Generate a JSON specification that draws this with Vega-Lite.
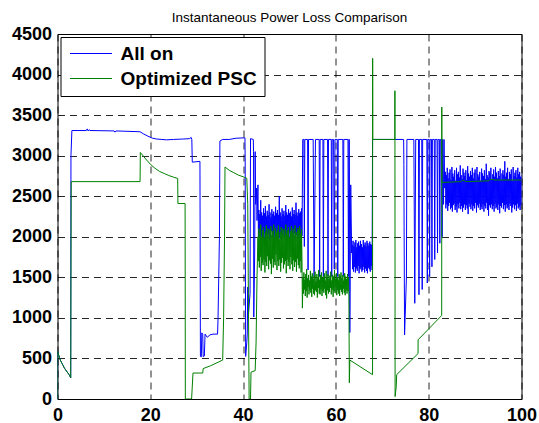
{
"$schema":"https://vega.github.io/schema/vega-lite/v6.json",
"width":464,"height":365,
"autosize":{"type":"none"},
"padding":{"left":57.5,"top":34,"right":17.5,"bottom":24},
"title":{"text":"Instantaneous Power Loss Comparison","fontSize":13.5,"fontWeight":"normal","font":"Liberation Sans","color":"black","anchor":"middle","frame":"group","baseline":"alphabetic","offset":6,"dy":16},
"config":{
"font":"Liberation Sans",
"view":{"stroke":"black","strokeWidth":1},
"axis":{"labelFont":"Liberation Sans","labelFontSize":18,"labelFontWeight":"bold","labelColor":"black","domain":false,"ticks":false,"grid":true,"gridColor":"#000000","gridDash":[7,5],"gridWidth":1,"gridOpacity":0.85,"labelOverlap":false,"labelBound":false,"labelFlush":false,"title":null},
"axisX":{"labelPadding":7},
"axisY":{"labelPadding":6},
"legend":{"orient":"top-left","offset":3,"padding":7,"fillColor":"white","strokeColor":"black","strokeWidth":1,"symbolType":"M-1,0L5,0","symbolSize":196,"symbolStrokeWidth":1,"labelFont":"Liberation Sans","labelFontSize":19,"labelFontWeight":"bold","labelColor":"black","labelOffset":34,"rowPadding":5,"title":null}
},
"datasets":{
"blue":[
{"x":0,"y":0},{"x":0.02,"y":585},{"x":0.6,"y":480},{"x":1.5,"y":380},{"x":2.5,"y":300},{"x":2.85,"y":262},{"x":2.9,"y":3000},{"x":3.1,"y":3310},{"x":6.2,"y":3310},{"x":6.4,"y":3330},{"x":6.6,"y":3305},{"x":6.8,"y":3320},{"x":7.0,"y":3310},{"x":12.2,"y":3305},{"x":12.4,"y":3290},{"x":12.6,"y":3305},{"x":17.8,"y":3295},{"x":18.5,"y":3270},{"x":19.5,"y":3240},{"x":20.5,"y":3215},{"x":21.4,"y":3205},{"x":22.5,"y":3200},{"x":23.5,"y":3195},{"x":25,"y":3200},{"x":27,"y":3205},{"x":28.5,"y":3210},{"x":28.8,"y":3225},{"x":28.95,"y":3200},{"x":29.05,"y":2920},{"x":30.7,"y":2930},{"x":30.8,"y":525},{"x":31.0,"y":520},{"x":31.1,"y":816},{"x":31.3,"y":800},{"x":31.4,"y":520},{"x":31.65,"y":530},{"x":31.8,"y":800},{"x":32.3,"y":760},{"x":32.8,"y":790},{"x":33.5,"y":800},{"x":34.5,"y":800},{"x":34.6,"y":1000},{"x":34.9,"y":2000},{"x":35.0,"y":3180},{"x":35.6,"y":3200},{"x":37,"y":3200},{"x":38.5,"y":3215},{"x":40.4,"y":3220},{"x":40.45,"y":2910},{"x":40.55,"y":525},{"x":40.8,"y":700},{"x":40.9,"y":800},{"x":41.0,"y":1380},{"x":41.1,"y":1000},{"x":41.5,"y":1300},{"x":41.6,"y":3210},{"x":42.2,"y":3200},{"x":42.25,"y":3050},{"x":42.3,"y":1010},{"x":42.5,"y":1800},{"x":42.6,"y":3050},{"x":42.7,"y":2400},{"x":42.9,"y":2600},{"x":43.0,"y":2200},{"x":43.2,"y":2640},
{"x":43.3,"y":2000},{"x":43.4,"y":2330},{"x":43.5,"y":1980},{"x":43.6,"y":2280},{"x":43.7,"y":2050},{"x":43.8,"y":2450},{"x":43.9,"y":1960},{"x":44.0,"y":2300},{"x":44.1,"y":2020},{"x":44.2,"y":2260},{"x":44.3,"y":1990},{"x":44.4,"y":2350},{"x":44.5,"y":2040},{"x":44.6,"y":2290},{"x":44.7,"y":1970},{"x":44.8,"y":2380},{"x":44.9,"y":2010},{"x":45.0,"y":2250},{"x":45.1,"y":2060},{"x":45.2,"y":2320},
{"x":45.3,"y":1980},{"x":45.4,"y":2270},{"x":45.5,"y":2030},{"x":45.6,"y":2400},{"x":45.7,"y":1950},{"x":45.8,"y":2300},{"x":45.9,"y":2000},{"x":46.0,"y":2240},{"x":46.1,"y":2070},{"x":46.2,"y":2340},{"x":46.3,"y":1990},{"x":46.4,"y":2280},{"x":46.5,"y":2020},{"x":46.6,"y":2310},{"x":46.7,"y":1960},{"x":46.8,"y":2260},{"x":46.9,"y":2040},{"x":47.0,"y":2370},{"x":47.1,"y":2010},{"x":47.2,"y":2290},
{"x":47.3,"y":1970},{"x":47.4,"y":2330},{"x":47.5,"y":2050},{"x":47.6,"y":2270},{"x":47.7,"y":2000},{"x":47.8,"y":2500},{"x":47.9,"y":1980},{"x":48.0,"y":2300},{"x":48.1,"y":2030},{"x":48.2,"y":2250},{"x":48.3,"y":1960},{"x":48.4,"y":2350},{"x":48.5,"y":2010},{"x":48.6,"y":2280},{"x":48.7,"y":2060},{"x":48.8,"y":2320},{"x":48.9,"y":1990},{"x":49.0,"y":2260},{"x":49.1,"y":2020},{"x":49.2,"y":2390},
{"x":49.3,"y":1950},{"x":49.4,"y":2300},{"x":49.5,"y":2040},{"x":49.6,"y":2270},{"x":49.7,"y":2000},{"x":49.8,"y":2340},{"x":49.9,"y":1980},{"x":50.0,"y":2290},{"x":50.1,"y":2050},{"x":50.2,"y":2310},{"x":50.3,"y":1970},{"x":50.4,"y":2250},{"x":50.5,"y":2030},{"x":50.6,"y":2360},{"x":50.7,"y":2010},{"x":50.8,"y":2280},{"x":50.9,"y":1960},{"x":51.0,"y":2330},{"x":51.1,"y":2040},{"x":51.2,"y":2270},
{"x":51.3,"y":1990},{"x":51.4,"y":2420},{"x":51.5,"y":2020},{"x":51.6,"y":2300},{"x":51.7,"y":1980},{"x":51.8,"y":2260},{"x":51.9,"y":2060},{"x":52.0,"y":2340},{"x":52.1,"y":2000},{"x":52.2,"y":2290},{"x":52.3,"y":1970},{"x":52.4,"y":2310},{"x":52.5,"y":2030},{"x":52.6,"y":2350},{"x":52.7,"y":2010},
{"x":52.85,"y":3200},{"x":53.1,"y":3200},{"x":53.2,"y":1880},{"x":53.3,"y":3200},{"x":53.9,"y":3200},{"x":54.0,"y":1590},{"x":54.1,"y":3200},{"x":55.1,"y":3200},{"x":55.3,"y":1510},{"x":55.6,"y":3200},{"x":56.4,"y":3200},{"x":56.5,"y":1510},{"x":56.6,"y":3200},{"x":57.2,"y":3200},{"x":57.3,"y":1510},{"x":57.4,"y":3200},{"x":58.2,"y":3200},{"x":58.3,"y":1510},{"x":58.4,"y":3200},{"x":59.0,"y":3200},{"x":59.1,"y":1510},{"x":59.2,"y":3200},{"x":59.5,"y":3200},{"x":59.65,"y":1600},{"x":59.8,"y":3200},{"x":60.3,"y":3200},{"x":60.4,"y":1510},{"x":60.5,"y":3200},{"x":61.5,"y":3200},{"x":61.6,"y":1510},{"x":61.7,"y":3200},{"x":62.6,"y":3200},{"x":62.7,"y":1510},{"x":62.8,"y":3200},{"x":62.9,"y":3200},{"x":63.0,"y":820},{"x":63.2,"y":2640},{"x":63.4,"y":1800},
{"x":63.5,"y":1900},{"x":63.6,"y":1600},{"x":63.7,"y":1950},{"x":63.8,"y":1570},{"x":63.9,"y":1880},{"x":64.0,"y":1630},{"x":64.1,"y":1930},{"x":64.2,"y":1560},{"x":64.3,"y":1960},{"x":64.4,"y":1610},{"x":64.5,"y":1870},{"x":64.6,"y":1580},{"x":64.7,"y":1920},{"x":64.8,"y":1640},{"x":64.9,"y":1940},{"x":65.0,"y":1550},{"x":65.1,"y":1890},{"x":65.2,"y":1600},{"x":65.3,"y":1950},{"x":65.4,"y":1620},{"x":65.5,"y":1910},{"x":65.6,"y":1570},
{"x":65.7,"y":1870},{"x":65.8,"y":1590},{"x":65.9,"y":1960},{"x":66.0,"y":1630},{"x":66.1,"y":1900},{"x":66.2,"y":1560},{"x":66.3,"y":1930},{"x":66.4,"y":1610},{"x":66.5,"y":1880},{"x":66.6,"y":1580},{"x":66.7,"y":1950},{"x":66.8,"y":1550},{"x":66.9,"y":1920},{"x":67.0,"y":1620},{"x":67.1,"y":1890},{"x":67.2,"y":1600},{"x":67.3,"y":1940},{"x":67.4,"y":1570},{"x":67.5,"y":1910},{"x":67.6,"y":1640},{"x":67.7,"y":1900},{"x":67.8,"y":1590},
{"x":67.9,"y":3200},{"x":70,"y":3200},{"x":72.7,"y":3200},{"x":74.6,"y":3200},{"x":74.65,"y":2890},{"x":74.7,"y":2130},{"x":74.8,"y":790},{"x":75.2,"y":1500},{"x":75.3,"y":3200},{"x":76.8,"y":3200},{"x":77.0,"y":1180},{"x":77.2,"y":3200},{"x":77.8,"y":3200},{"x":77.9,"y":1285},{"x":78.0,"y":3200},{"x":78.5,"y":3200},{"x":78.6,"y":1350},{"x":78.7,"y":3200},{"x":79.6,"y":3200},{"x":79.7,"y":1430},{"x":79.8,"y":3200},{"x":80.1,"y":3200},{"x":80.2,"y":1510},{"x":80.3,"y":3200},{"x":80.6,"y":3200},{"x":80.7,"y":1630},{"x":80.8,"y":3200},{"x":81.2,"y":3200},{"x":81.3,"y":1720},{"x":81.4,"y":3200},{"x":81.8,"y":3200},{"x":81.9,"y":1800},{"x":82.0,"y":3200},{"x":82.3,"y":3200},{"x":82.4,"y":1920},{"x":82.5,"y":3200},{"x":82.8,"y":3200},{"x":82.9,"y":2000},{"x":83.0,"y":3200},{"x":83.2,"y":2400},{"x":83.3,"y":3200},{"x":83.45,"y":2600},
{"x":83.6,"y":2800},{"x":83.7,"y":2350},{"x":83.8,"y":2760},{"x":83.9,"y":2400},{"x":84.0,"y":2850},{"x":84.1,"y":2320},{"x":84.2,"y":2720},{"x":84.3,"y":2380},{"x":84.4,"y":2790},{"x":84.5,"y":2420},{"x":84.6,"y":2830},{"x":84.7,"y":2340},{"x":84.8,"y":2700},{"x":84.9,"y":2360},{"x":85.0,"y":2860},{"x":85.1,"y":2310},{"x":85.2,"y":2780},{"x":85.3,"y":2390},{"x":85.4,"y":2740},{"x":85.5,"y":2410},
{"x":85.6,"y":2820},{"x":85.7,"y":2330},{"x":85.8,"y":2690},{"x":85.9,"y":2370},{"x":86.0,"y":2850},{"x":86.1,"y":2300},{"x":86.2,"y":2770},{"x":86.3,"y":2400},{"x":86.4,"y":2800},{"x":86.5,"y":2350},{"x":86.6,"y":2730},{"x":86.7,"y":2420},{"x":86.8,"y":2880},{"x":86.9,"y":2340},{"x":87.0,"y":2760},{"x":87.1,"y":2380},{"x":87.2,"y":2710},{"x":87.3,"y":2310},{"x":87.4,"y":2840},{"x":87.5,"y":2360},
{"x":87.6,"y":2790},{"x":87.7,"y":2400},{"x":87.8,"y":2750},{"x":87.9,"y":2330},{"x":88.0,"y":2820},{"x":88.1,"y":2390},{"x":88.2,"y":2700},{"x":88.3,"y":2350},{"x":88.4,"y":2870},{"x":88.5,"y":2280},{"x":88.6,"y":2780},{"x":88.7,"y":2410},{"x":88.8,"y":2740},{"x":88.9,"y":2370},{"x":89.0,"y":2810},{"x":89.1,"y":2340},{"x":89.2,"y":2760},{"x":89.3,"y":2400},{"x":89.4,"y":2850},{"x":89.5,"y":2320},
{"x":89.6,"y":2720},{"x":89.7,"y":2380},{"x":89.8,"y":2790},{"x":89.9,"y":2350},{"x":90.0,"y":2830},{"x":90.1,"y":2420},{"x":90.2,"y":2700},{"x":90.3,"y":2300},{"x":90.4,"y":2860},{"x":90.5,"y":2390},{"x":90.6,"y":2770},{"x":90.7,"y":2360},{"x":90.8,"y":2740},{"x":90.9,"y":2410},{"x":91.0,"y":2800},{"x":91.1,"y":2330},{"x":91.2,"y":2690},{"x":91.3,"y":2370},{"x":91.4,"y":2840},{"x":91.5,"y":2340},
{"x":91.6,"y":2780},{"x":91.7,"y":2400},{"x":91.8,"y":2750},{"x":91.9,"y":2310},{"x":92.0,"y":2820},{"x":92.1,"y":2380},{"x":92.2,"y":2710},{"x":92.3,"y":2350},{"x":92.4,"y":2900},{"x":92.5,"y":2420},{"x":92.6,"y":2760},{"x":92.7,"y":2330},{"x":92.8,"y":2730},{"x":92.9,"y":2260},{"x":93.0,"y":2810},{"x":93.1,"y":2390},{"x":93.2,"y":2790},{"x":93.3,"y":2360},{"x":93.4,"y":2850},{"x":93.5,"y":2400},
{"x":93.6,"y":2700},{"x":93.7,"y":2340},{"x":93.8,"y":2770},{"x":93.9,"y":2380},{"x":94.0,"y":2830},{"x":94.1,"y":2310},{"x":94.2,"y":2740},{"x":94.3,"y":2410},{"x":94.4,"y":2860},{"x":94.5,"y":2350},{"x":94.6,"y":2790},{"x":94.7,"y":2370},{"x":94.8,"y":2720},{"x":94.9,"y":2330},{"x":95.0,"y":2810},{"x":95.1,"y":2400},{"x":95.2,"y":2750},{"x":95.3,"y":2290},{"x":95.4,"y":2840},{"x":95.5,"y":2380},
{"x":95.6,"y":2700},{"x":95.7,"y":2360},{"x":95.8,"y":2780},{"x":95.9,"y":2420},{"x":96.0,"y":2820},{"x":96.1,"y":2340},{"x":96.2,"y":2760},{"x":96.3,"y":2390},{"x":96.4,"y":2930},{"x":96.5,"y":2310},{"x":96.6,"y":2740},{"x":96.7,"y":2400},{"x":96.8,"y":2790},{"x":96.9,"y":2350},{"x":97.0,"y":2850},{"x":97.1,"y":2370},{"x":97.2,"y":2710},{"x":97.3,"y":2330},{"x":97.4,"y":2800},{"x":97.5,"y":2410},
{"x":97.6,"y":2770},{"x":97.7,"y":2380},{"x":97.8,"y":2830},{"x":97.9,"y":2300},{"x":98.0,"y":2690},{"x":98.1,"y":2360},{"x":98.2,"y":2860},{"x":98.3,"y":2400},{"x":98.4,"y":2750},{"x":98.5,"y":2340},{"x":98.6,"y":2790},{"x":98.7,"y":2390},{"x":98.8,"y":2820},{"x":98.9,"y":2320},{"x":99.0,"y":2730},{"x":99.1,"y":2410},{"x":99.2,"y":2850},{"x":99.3,"y":2350},{"x":99.4,"y":2770},{"x":99.5,"y":2370},
{"x":99.6,"y":2800},{"x":99.7,"y":2330},{"x":99.8,"y":2740},{"x":99.9,"y":2390},{"x":100.0,"y":2760}
],
"green":[
{"x":0,"y":0},{"x":0.02,"y":585},{"x":0.6,"y":480},{"x":1.5,"y":380},{"x":2.5,"y":300},{"x":2.85,"y":262},{"x":2.95,"y":2680},{"x":17.8,"y":2680},{"x":17.85,"y":3040},{"x":19,"y":2960},{"x":20,"y":2895},{"x":21,"y":2845},{"x":22,"y":2805},{"x":23,"y":2780},{"x":24,"y":2755},{"x":25,"y":2735},{"x":25.9,"y":2720},{"x":25.95,"y":2410},{"x":27.5,"y":2410},{"x":27.55,"y":0},{"x":28.9,"y":0},{"x":29.2,"y":320},{"x":31.3,"y":320},{"x":31.4,"y":375},{"x":33,"y":410},{"x":35.6,"y":480},{"x":35.8,"y":1000},{"x":36.0,"y":2000},{"x":36.1,"y":2860},{"x":37,"y":2820},{"x":38,"y":2790},{"x":39,"y":2760},{"x":40,"y":2740},{"x":40.8,"y":2720},{"x":41.0,"y":2400},{"x":41.3,"y":0},{"x":41.6,"y":0},{"x":41.7,"y":330},{"x":42.6,"y":350},{"x":42.8,"y":700},{"x":43.0,"y":1500},{"x":43.2,"y":2000},
{"x":43.3,"y":1700},{"x":43.4,"y":2100},{"x":43.5,"y":1620},{"x":43.6,"y":2050},{"x":43.7,"y":1750},{"x":43.8,"y":2150},{"x":43.9,"y":1580},{"x":44.0,"y":2000},{"x":44.1,"y":1680},{"x":44.2,"y":2080},{"x":44.3,"y":1650},{"x":44.4,"y":2120},{"x":44.5,"y":1720},{"x":44.6,"y":1990},{"x":44.7,"y":1560},{"x":44.8,"y":2060},{"x":44.9,"y":1690},{"x":45.0,"y":2140},{"x":45.1,"y":1640},{"x":45.2,"y":2030},
{"x":45.3,"y":1760},{"x":45.4,"y":2100},{"x":45.5,"y":1600},{"x":45.6,"y":1980},{"x":45.7,"y":1710},{"x":45.8,"y":2090},{"x":45.9,"y":1670},{"x":46.0,"y":2130},{"x":46.1,"y":1540},{"x":46.2,"y":2020},{"x":46.3,"y":1730},{"x":46.4,"y":2070},{"x":46.5,"y":1620},{"x":46.6,"y":2150},{"x":46.7,"y":1690},{"x":46.8,"y":2000},{"x":46.9,"y":1650},{"x":47.0,"y":2110},{"x":47.1,"y":1780},{"x":47.2,"y":2050},
{"x":47.3,"y":1590},{"x":47.4,"y":2080},{"x":47.5,"y":1700},{"x":47.6,"y":2140},{"x":47.7,"y":1640},{"x":47.8,"y":1970},{"x":47.9,"y":1720},{"x":48.0,"y":2060},{"x":48.1,"y":1570},{"x":48.2,"y":2120},{"x":48.3,"y":1680},{"x":48.4,"y":2030},{"x":48.5,"y":1740},{"x":48.6,"y":2100},{"x":48.7,"y":1610},{"x":48.8,"y":2090},{"x":48.9,"y":1660},{"x":49.0,"y":2010},{"x":49.1,"y":1700},{"x":49.2,"y":2150},
{"x":49.3,"y":1550},{"x":49.4,"y":2040},{"x":49.5,"y":1720},{"x":49.6,"y":2080},{"x":49.7,"y":1640},{"x":49.8,"y":2120},{"x":49.9,"y":1690},{"x":50.0,"y":1990},{"x":50.1,"y":1600},{"x":50.2,"y":2070},{"x":50.3,"y":1750},{"x":50.4,"y":2130},{"x":50.5,"y":1660},{"x":50.6,"y":2050},{"x":50.7,"y":1580},{"x":50.8,"y":2100},{"x":50.9,"y":1710},{"x":51.0,"y":2020},{"x":51.1,"y":1630},{"x":51.2,"y":2140},
{"x":51.3,"y":1690},{"x":51.4,"y":2060},{"x":51.5,"y":1570},{"x":51.6,"y":2000},{"x":51.7,"y":1730},{"x":51.8,"y":2110},{"x":51.9,"y":1650},{"x":52.0,"y":2080},{"x":52.1,"y":1610},{"x":52.2,"y":2130},{"x":52.3,"y":1700},{"x":52.4,"y":2040},{"x":52.5,"y":1560},{"x":52.6,"y":2090},{"x":52.7,"y":1680},
{"x":52.78,"y":1120},
{"x":52.9,"y":1500},{"x":53.0,"y":1300},{"x":53.1,"y":1560},{"x":53.2,"y":1350},{"x":53.3,"y":1470},{"x":53.4,"y":1270},{"x":53.5,"y":1540},{"x":53.6,"y":1330},{"x":53.7,"y":1600},{"x":53.8,"y":1250},{"x":53.9,"y":1490},{"x":54.0,"y":1380},{"x":54.1,"y":1530},{"x":54.2,"y":1290},{"x":54.3,"y":1460},{"x":54.4,"y":1340},{"x":54.5,"y":1580},{"x":54.6,"y":1310},{"x":54.7,"y":1510},{"x":54.8,"y":1260},
{"x":54.9,"y":1550},{"x":55.0,"y":1360},{"x":55.1,"y":1480},{"x":55.2,"y":1300},{"x":55.3,"y":1520},{"x":55.4,"y":1280},{"x":55.5,"y":1570},{"x":55.6,"y":1340},{"x":55.7,"y":1450},{"x":55.8,"y":1320},{"x":55.9,"y":1540},{"x":56.0,"y":1250},{"x":56.1,"y":1500},{"x":56.2,"y":1370},{"x":56.3,"y":1590},{"x":56.4,"y":1300},{"x":56.5,"y":1470},{"x":56.6,"y":1290},{"x":56.7,"y":1530},{"x":56.8,"y":1350},
{"x":56.9,"y":1560},{"x":57.0,"y":1270},{"x":57.1,"y":1490},{"x":57.2,"y":1330},{"x":57.3,"y":1510},{"x":57.4,"y":1310},{"x":57.5,"y":1550},{"x":57.6,"y":1360},{"x":57.7,"y":1460},{"x":57.8,"y":1280},{"x":57.9,"y":1580},{"x":58.0,"y":1240},{"x":58.1,"y":1500},{"x":58.2,"y":1340},{"x":58.3,"y":1540},{"x":58.4,"y":1300},{"x":58.5,"y":1480},{"x":58.6,"y":1320},{"x":58.7,"y":1520},{"x":58.8,"y":1370},
{"x":58.9,"y":1570},{"x":59.0,"y":1290},{"x":59.1,"y":1460},{"x":59.2,"y":1350},{"x":59.3,"y":1530},{"x":59.4,"y":1260},{"x":59.5,"y":1510},{"x":59.6,"y":1330},{"x":59.7,"y":1590},{"x":59.8,"y":1310},{"x":59.9,"y":1480},{"x":60.0,"y":1380},{"x":60.1,"y":1550},{"x":60.2,"y":1280},{"x":60.3,"y":1500},{"x":60.4,"y":1340},{"x":60.5,"y":1470},{"x":60.6,"y":1300},{"x":60.7,"y":1540},{"x":60.8,"y":1270},
{"x":60.9,"y":1520},{"x":61.0,"y":1350},{"x":61.1,"y":1560},{"x":61.2,"y":1320},{"x":61.3,"y":1490},{"x":61.4,"y":1290},{"x":61.5,"y":1530},{"x":61.6,"y":1360},{"x":61.7,"y":1460},{"x":61.8,"y":1310},{"x":61.9,"y":1550},{"x":62.0,"y":1280},{"x":62.1,"y":1510},{"x":62.2,"y":1340},{"x":62.3,"y":1480},{"x":62.4,"y":1300},{"x":62.5,"y":1540},{"x":62.6,"y":1330},{"x":62.7,"y":1500},{"x":62.8,"y":1270},
{"x":62.9,"y":200},{"x":63.0,"y":480},{"x":67.9,"y":300},{"x":67.92,"y":4200},{"x":67.95,"y":3200},{"x":72.7,"y":3200},{"x":72.72,"y":3800},{"x":72.76,"y":30},{"x":73.0,"y":150},{"x":73.1,"y":300},{"x":77.7,"y":560},{"x":77.72,"y":730},{"x":82.8,"y":1030},{"x":82.82,"y":3600},{"x":82.86,"y":2670},{"x":87,"y":2680},{"x":87.3,"y":2700},{"x":87.6,"y":2690},{"x":88,"y":2680},{"x":93,"y":2690},{"x":93.3,"y":2710},{"x":94.3,"y":2700},{"x":100,"y":2700}
]
},
"encoding":{
"x":{"field":"x","type":"quantitative","scale":{"domain":[0,100],"nice":false,"zero":false},"axis":{"values":[0,20,40,60,80,100]}},
"y":{"field":"y","type":"quantitative","scale":{"domain":[0,4500],"nice":false},"axis":{"values":[0,500,1000,1500,2000,2500,3000,3500,4000,4500],"format":"d"}}
},
"layer":[
{"data":{"name":"blue"},"mark":{"type":"line","strokeWidth":1,"clip":true},"encoding":{"color":{"datum":"All on","type":"nominal","scale":{"domain":["All on","Optimized PSC"],"range":["#0000ff","#008000"]}}}},
{"data":{"name":"green"},"mark":{"type":"line","strokeWidth":1,"clip":true},"encoding":{"color":{"datum":"Optimized PSC","type":"nominal"}}}
]
}
